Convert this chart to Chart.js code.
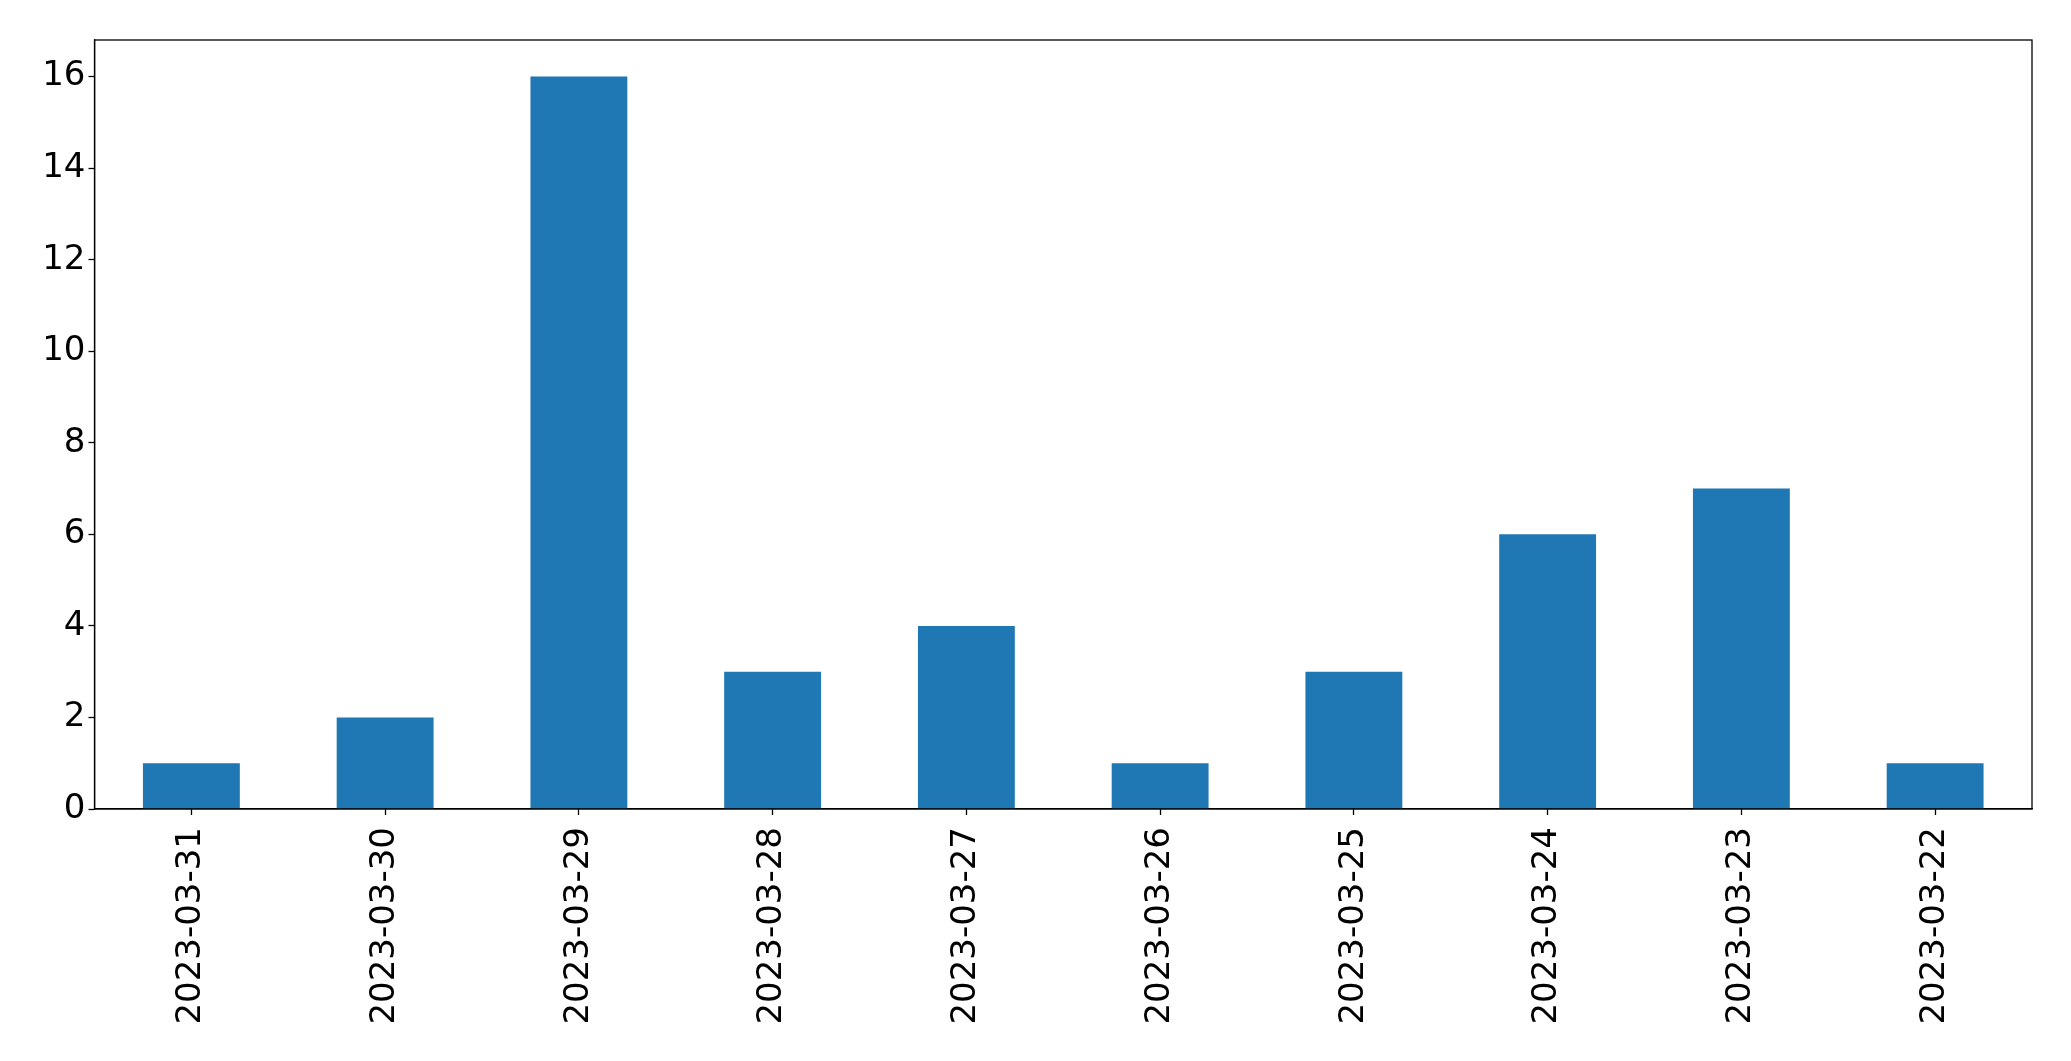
<!DOCTYPE html>
<html lang="en">
<head>
<meta charset="UTF-8">
<title>Bar chart</title>
<style>
  html, body { margin: 0; padding: 0; background: #fff; }
  #wrap { width: 2071px; height: 1061px; }
</style>
</head>
<body>
<div id="wrap"><canvas id="chart" width="2071" height="1061"></canvas></div>
<script src="https://cdn.jsdelivr.net/npm/chart.js"></script>
<script>
// data
const dates = ['2023-03-31', '2023-03-30', '2023-03-29', '2023-03-28', '2023-03-27',
               '2023-03-26', '2023-03-25', '2023-03-24', '2023-03-23', '2023-03-22'];
const counts = [1, 2, 16, 3, 4, 1, 3, 6, 7, 1];
const yTicks = [0, 2, 4, 6, 8, 10, 12, 14, 16];

const font = { family: 'DejaVu Sans', size: 34 };

// box around the plot area, like matplotlib's spines
const frame = {
  id: 'frame',
  afterDraw(chart) {
    const a = chart.chartArea, ctx = chart.ctx;
    ctx.save();
    ctx.strokeStyle = '#000';
    ctx.lineWidth = 1.3;
    ctx.strokeRect(a.left, a.top, a.right - a.left, a.bottom - a.top);
    ctx.restore();
  }
};

new Chart(document.getElementById('chart'), {
  type: 'bar',
  data: {
    labels: dates,
    datasets: [{
      data: counts,
      backgroundColor: '#1f77b4',
      barPercentage: 0.5,
      categoryPercentage: 1
    }]
  },
  options: {
    responsive: false,
    animation: false,
    layout: { padding: { top: 40, right: 39, left: 0, bottom: 0 } },
    plugins: { legend: { display: false }, tooltip: { enabled: false } },
    scales: {
      x: {
        grid: { offset: false, drawOnChartArea: false, tickLength: 6, tickWidth: 1.3, color: '#000' },
        border: { display: true, color: '#000', width: 1.3 },
        ticks: { font, color: '#000', minRotation: 90, maxRotation: 90, padding: 12, autoSkip: false },
        afterFit(scale) { scale.height = 252; }
      },
      y: {
        min: 0,
        max: 16.8,
        grid: { drawOnChartArea: false, tickLength: 6, tickWidth: 1.3, color: '#000' },
        border: { display: true, color: '#000', width: 1.3 },
        ticks: { font, color: '#000', padding: 3 },
        afterBuildTicks(scale) { scale.ticks = yTicks.map(v => ({ value: v })); },
        afterFit(scale) { scale.width = 94.5; }
      }
    }
  },
  plugins: [frame]
});
</script>
</body>
</html>
